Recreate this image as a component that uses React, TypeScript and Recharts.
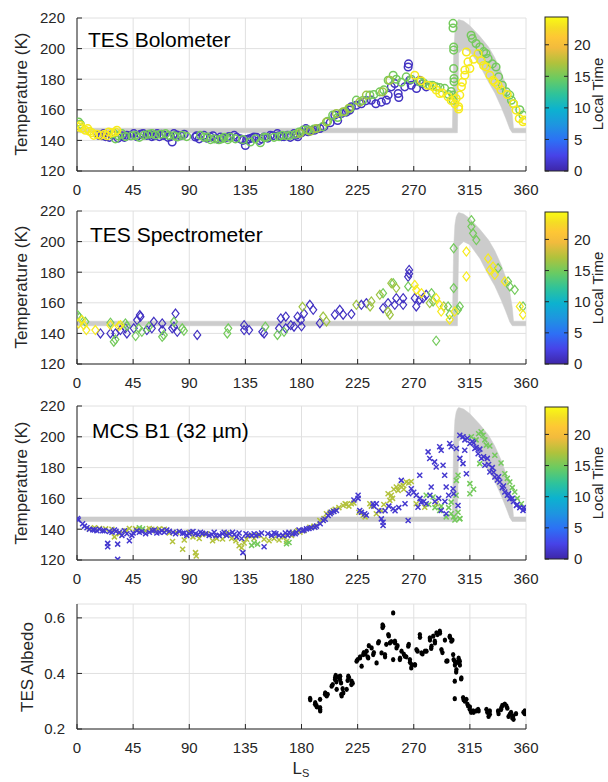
import React from 'react';
import { ComposedChart, Scatter, Area, XAxis, YAxis, CartesianGrid } from 'recharts';

const FONT = '"Liberation Sans", Arial, Helvetica, sans-serif';
const INK = '#262626';

const LS_TICKS = [0, 45, 90, 135, 180, 225, 270, 315, 360];
const TEMP_TICKS = [120, 140, 160, 180, 200, 220];
const ALBEDO_TICKS = [0.2, 0.4, 0.6];
const LT_TICKS = [0, 5, 10, 15, 20];
const LT_MAX = 24.4;

// grey model envelope
const BAND_LS = [0, 301, 302, 303, 304, 305, 306, 310, 315, 323, 330, 335, 340, 344, 347, 349, 350, 360];
const BAND_LO = [145, 145, 145, 145, 145, 145, 197, 200, 198, 189, 178, 171, 162, 154, 147.5, 145, 145, 145];
const BAND_HI = [148, 148, 196, 211, 216, 218, 219, 218, 215, 208, 201, 194, 185, 176, 167, 157, 148, 148];

// TES bolometer, by local time
const BOL_LT1 = [
  [17.4, 143.3], [20, 143], [21.4, 144.4], [23, 142.5], [26, 142], [28, 143.5], [33, 141.5], [36, 143], [38, 142],
  [40, 143.3], [43, 143], [45.5, 144.4], [48, 142.5], [51, 144], [53, 144.5], [56, 143.3], [58, 144], [60, 142.5],
  [62, 143], [64.3, 144.4], [66, 142.5], [68, 144], [69.6, 143.3], [73, 142], [75, 142.5], [76.3, 139], [77.7, 144.4],
  [80, 143.5], [83, 143], [86, 144], [95, 142.2], [96, 143], [98, 141], [101.8, 143.3], [104, 141.5], [107, 142.2],
  [109, 143], [112, 141], [115, 142.2], [117, 141.5], [120, 142], [122, 142.5], [126, 143.3], [128, 142], [131, 141],
  [133, 140], [135, 136.7], [136, 140.5], [138, 141], [140, 141.5], [142, 142.2], [144, 142], [146, 140], [148, 141],
  [150, 142.2], [153, 141.5], [155, 143.3], [157, 143], [160.7, 144.4], [162, 143], [164, 142.5], [166, 142.5],
  [168.8, 143.3], [171, 142], [174, 144.4], [176, 143.5], [177, 142.4], [180, 145], [183.5, 147.7], [185.3, 145.7],
  [188, 146.5], [190.7, 146.7], [194.7, 147.8], [198, 149], [203, 151.5], [206.7, 156.5], [209, 153], [212, 157.6],
  [216, 158.5], [218.7, 159.8], [220, 162], [224, 163], [228, 164], [232, 166], [236, 166.3], [239.6, 164],
  [244, 165], [248, 166.3], [249.5, 169.6], [252, 175], [254.8, 177.2], [257.5, 170.7], [258, 168], [262.8, 175],
  [265.5, 188], [265.8, 190], [266.8, 179.3], [268, 176], [272.2, 173.9], [274.8, 179.3], [277, 177], [280, 175],
];
const BOL_LT15 = [
  [1.3, 152], [2.7, 150.5], [29.5, 144.4], [30.8, 141], [33, 143], [36, 144.4], [39, 142.5], [44, 143], [47, 143.3],
  [50, 142], [53.6, 143.3], [57, 144], [60, 144.4], [63, 143.5], [67, 144], [71, 144.4], [73.6, 143.3], [78, 143],
  [80.4, 142.2], [84.4, 143.3], [88, 142.5], [99, 143.3], [102, 142], [104.5, 142.2], [107, 140.5], [110, 141],
  [113.8, 140.4], [116, 141], [118, 142], [121, 140.5], [123, 142], [127, 141], [133, 140.5], [139, 139], [143, 141],
  [147, 138.5], [150, 142], [152, 142], [158, 142], [162, 142.5], [164.7, 143.3], [168, 143], [171, 143.3],
  [175, 144], [178, 145.5], [181.3, 146.7], [185, 147], [190, 147.5], [197, 149], [201, 152.5], [205, 156.5],
  [209, 155], [214.7, 158.7], [219, 161], [224, 166.3], [229, 166], [234.8, 169.6], [238, 170], [242.8, 171.7],
  [246, 173], [249.5, 179.3], [253.5, 182.6], [256, 180], [260, 178], [264, 181.5], [268, 180], [274.8, 178.3],
  [278, 177.5], [282.8, 176], [285, 176], [288, 175], [291, 174.5], [294.8, 174], [298, 170], [300, 172],
  [301.5, 216.5], [301.5, 213.5], [302, 201], [302, 199], [302, 187], [302.3, 180.4], [302.3, 178.3],
  [301.5, 169.6], [301.5, 166.3], [316, 208.7], [317, 206.5], [320, 203.3], [323, 201], [326, 198], [328, 196.7],
  [329.6, 193.5], [333, 190], [336, 188], [338, 181.5], [341, 176], [344.3, 171.7], [347, 169.6], [348.3, 166.3],
  [350, 164], [355, 160], [357.6, 156.5],
];
const BOL_LT16 = [
  [178.7, 144.6], [187, 146], [192, 147.8], [200, 152], [208, 157.6], [213.4, 158.7], [218, 161], [226.7, 165],
  [232, 169.6], [245, 171.7], [250.8, 179.3],
];
const BOL_LT23 = [
  [1.3, 148.7], [2.7, 149.8], [4, 148], [6.7, 146.6], [8.6, 147.7], [10, 146], [12, 145], [13.4, 143.3], [16, 144],
  [18.8, 143.3], [22, 144], [24, 143], [25.4, 145.5], [28, 145], [30.8, 145.5], [32, 146.6], [270.8, 182.6],
  [276, 179], [281, 176], [285.5, 175], [288, 173], [290.8, 170.7], [293, 171], [297.5, 168.5], [300, 166],
  [303, 164], [304, 167.4], [306, 162], [306, 160.5], [306.9, 169.6], [308.2, 175], [309, 178], [310.9, 182.6],
  [311, 186], [312.2, 197.8], [313.5, 191.3], [315, 187], [318, 193], [321.6, 196.7], [324, 192], [326, 189],
  [328.2, 188], [331, 182.6], [333.6, 179.3], [335, 178], [337.6, 176], [340, 173], [345, 170], [350, 164],
  [352, 159.8], [354.6, 154.3], [357.6, 152.2], [359, 153.3],
];

// TES spectrometer
const SPEC_LT1 = [
  [18.8, 140], [26.8, 140], [30.8, 140], [34.8, 142.2], [38.8, 143.3], [40, 140], [45.5, 143.3], [48.2, 148.7],
  [50.9, 150.9], [50.4, 152], [56, 142.2], [60, 143.3], [61.6, 147.6], [68.3, 146.5], [68.3, 142.2], [76.3, 143.3],
  [79, 153], [77.7, 144.4], [80.4, 141], [96.4, 139], [134, 145.4], [134, 142.2], [138, 142.2], [148.6, 141],
  [150, 140], [162, 143.3], [163.4, 149.8], [167.4, 143.3], [167.4, 150.9], [171.4, 145.4], [174, 144.4],
  [176.8, 150.9], [179.5, 148.7], [182, 153], [180, 144.6], [186.7, 158.7], [189.4, 155.4], [194.7, 146.7],
  [206.7, 152.2], [210.7, 155.4], [213.4, 152.2], [220, 152.6], [228, 158.7], [232, 159.8], [245.4, 156.5],
  [249.4, 159.8], [254.8, 158.7], [256, 163], [261.5, 163], [261.5, 158.7], [266.3, 181.5], [266.3, 179],
  [265.5, 177], [270.8, 163], [272, 157.6], [274.8, 162], [277.5, 163], [280, 165.2],
];
const SPEC_LT15 = [
  [0.5, 152], [2, 150.5], [6.7, 147.6], [26.8, 147], [29.5, 134.6], [30.8, 136], [38.8, 146.5], [40, 144.8],
  [47, 138.3], [49.5, 143.3], [52, 141], [57.6, 144.4], [68.3, 137.8], [69.6, 138.9], [77.7, 147.6], [84.4, 143.3],
  [85.7, 141.7], [120.5, 140], [121.3, 143.3], [151, 144.4], [160.7, 139], [166, 141], [245.4, 166.3],
  [253.5, 172.8], [265.5, 170.7], [284.2, 166.3], [285.5, 160.9], [297.5, 157.6], [298.8, 152.2], [302, 195.6],
  [302, 169.6], [288, 135.2], [316.2, 214], [316.2, 209.8], [317.5, 205.4], [320.2, 201], [337.6, 182.6],
  [345.6, 174], [347, 170.7], [351, 168.5], [357.6, 157.6], [306.9, 157.6], [305.5, 155.4],
];
const SPEC_LT16 = [
  [180.8, 157.4], [197.4, 151], [200, 147.8], [224, 158.7], [235, 157.6], [236, 160.9], [242.8, 165.2],
  [249.4, 154.3], [250.8, 152.2], [252, 172.8], [256, 169.6], [282.8, 159.8], [294, 157.6],
];
const SPEC_LT23 = [
  [1.3, 146.5], [4, 148.7], [5.4, 145.4], [7.5, 142.2], [14.7, 142.2], [26.8, 145.4], [33.5, 144.8], [34.8, 145.4],
  [270.8, 171.7], [272, 168.5], [276.2, 166.3], [288, 163], [290.8, 158.7], [292, 154.3], [298.8, 149],
  [302.8, 154.3], [312.2, 193.5], [312.2, 177.2], [329.6, 189], [331, 181.5], [333.6, 183.7], [335, 178.3],
  [343, 174], [355, 157.6], [357.6, 152.2],
];

// MCS B1
const MCS_LT2 = [
  [0.5, 147], [1, 146], [4.5, 143.5], [6, 142], [8, 141], [10, 140], [12.6, 139.6], [14, 139.5], [16, 139], [18, 140],
  [20.6, 139], [22, 139], [24.6, 130.8], [24.6, 128.6], [26, 138.5], [28, 138], [30, 139.5], [31.3, 138.7],
  [32.6, 130.3], [32.6, 120.4], [34, 138], [36, 136], [38, 139], [40, 137], [42, 132.5], [44, 136], [45, 137.5],
  [48, 139], [50, 138], [52, 138.5], [55, 137], [58, 138], [60.6, 139], [62, 139.5], [64, 137.5], [66, 138], [68, 139],
  [70, 138], [72, 139.5], [74, 138.7], [77, 138], [79, 137], [82, 138.5], [84.7, 137.4], [86, 137.5], [88, 136],
  [90, 137], [91.4, 138], [93, 138.5], [95, 137], [97, 136.5], [99, 138], [100.7, 137.4], [103, 137], [106, 136],
  [108, 136.5], [110, 138], [111.4, 135.8], [114, 136], [116.7, 137], [118, 138], [120, 136], [122, 137],
  [124.7, 138], [126, 136.5], [128, 135], [130, 137.5], [132, 134], [133, 124.8], [135.5, 137], [137, 136],
  [140, 136], [142, 137], [143.4, 135.8], [146, 136.5], [148, 137.5], [150, 128.6], [153, 137], [156, 136],
  [158, 137.5], [159.5, 137], [162, 136], [165, 136], [167, 137.5], [169, 136], [170, 138], [173, 137], [175, 137],
  [176, 138], [178, 139.5], [180.8, 139], [182, 139.5], [184, 140.2], [186, 140.5], [188, 141], [190.7, 141.3],
  [192, 142], [195, 143.5], [197.4, 145.6], [199, 146.5], [201.4, 148.9], [203, 150], [204, 151], [206, 151.5],
  [208, 152.2], [222, 159], [225.4, 162], [225.4, 160], [226.7, 152.2], [228, 151], [230.7, 150], [232, 149],
  [237.4, 156.5], [238, 155], [240, 156.5], [242, 152], [244, 146.7], [245.4, 142.4], [245.4, 144.5], [247, 152],
  [250, 155], [253.5, 153.3], [255, 152], [258, 154], [260, 171.7], [263, 156.5], [265.5, 145.6], [266, 163],
  [268, 166.3], [270, 164], [272, 162], [273.4, 154.3], [274.8, 175], [275, 160], [276, 157.6], [278, 158],
  [280, 156.5], [281.5, 190.2], [282.8, 185.9], [283, 162], [284, 167.4], [286.7, 183.7], [287, 158],
  [288, 180.4], [290, 160], [290.8, 193.5], [292, 191.3], [292, 152.2], [293.5, 181.5], [294.8, 175], [295, 158],
  [296, 167.4], [296, 150], [298, 162], [298.8, 195.6], [300, 193.5], [301.5, 166.3], [302, 163], [304.2, 192.4],
  [305.5, 155.4], [306.9, 201], [307, 186], [309.5, 200], [309.5, 182.6], [310.9, 191.3], [311, 198], [312.2, 176],
  [313, 199], [315, 195.6], [317, 197], [318, 196], [319, 192.4], [320, 193], [321.6, 189], [323, 192],
  [324.2, 185.9], [326, 187], [327, 181.5], [329, 186], [330, 182], [331, 177.2], [333, 180], [334, 177],
  [335, 173.9], [337, 172], [338, 174], [339, 170.7], [341, 167], [342, 168], [343, 164.1], [345, 162], [346, 163],
  [347, 159.8], [349, 160], [350, 158], [352.3, 155.4], [353, 156], [355, 154], [357.6, 152.2], [358, 154],
  [360, 153],
];
const MCS_LT17 = [
  [10, 140.2], [14, 141], [18, 140.5], [23, 140.2], [28, 140], [30, 135], [34, 137], [39.3, 139], [42, 140.5],
  [47, 140.2], [50, 140], [55, 139], [58, 140.5], [60, 140], [63, 139], [66, 140.2], [70, 140], [74, 137.5],
  [76.6, 132], [80, 138], [84.7, 127], [86, 133], [90, 138], [93, 135], [95, 124.8], [95.6, 122.6], [98, 134],
  [100.7, 136.5], [104, 137], [108.7, 132.5], [112, 134], [116.7, 133.6], [120, 137.5], [124, 134],
  [127.4, 132.5], [130, 129.2], [132, 128], [134, 131], [136, 133.5], [138, 135.8], [142, 134], [145, 136],
  [150, 133.5], [154, 132.5], [158, 134], [162, 133], [166, 135], [168, 132], [172, 136], [172.8, 138], [177, 139],
  [178.7, 138], [182, 139], [186.7, 141.3], [190, 142], [194.7, 145.6], [198, 147], [200, 150], [203, 151],
  [205.4, 152.2], [207, 153], [210, 154], [213.4, 155.4], [215, 156.5], [216, 156], [218, 155], [220, 156.5],
  [222, 157], [226, 151], [229.4, 149], [231, 148], [234.8, 156.5], [236, 155], [240, 150], [244, 152], [246, 156],
  [249.4, 163], [250.8, 158.7], [252, 162], [253, 160], [254, 166], [256, 167.4], [257.5, 165.2], [259, 168],
  [261.5, 168.5], [262, 166], [264, 170.7], [266, 170], [268, 171], [272, 156.5], [278.8, 154.3], [288, 156.5],
];
const MCS_LT15 = [
  [50, 141], [52.6, 140.2], [140, 129.5], [142, 131], [144.8, 130.3], [168, 130.5], [170, 131.4], [280, 162],
  [282, 156], [285.5, 160.9], [287, 154], [290.8, 152.2], [292, 155], [296, 148], [298, 154], [300, 157.6],
  [300, 150], [302, 148], [303, 146], [304, 162], [305.5, 151], [306.9, 146.7], [307, 147], [305.5, 175],
  [304.2, 171.7], [315, 169.6], [315, 163], [316.2, 200], [318, 166], [320, 198], [322, 202], [322.9, 182.6],
  [324, 203.3], [325.6, 201], [327, 198], [328.2, 194.6], [331, 194], [335, 188], [340, 183], [343, 176],
  [345, 173], [347, 170.7], [349, 167], [351, 164.1], [353, 160], [356.3, 156.5],
];

// TES albedo
const ALBEDO = [
  [186.9, 0.31], [187, 0.305], [190.9, 0.289], [191, 0.295], [192.2, 0.28], [192, 0.285], [194.9, 0.307],
  [194.9, 0.277], [194.9, 0.271], [195, 0.265], [198.9, 0.325], [199, 0.33], [200.2, 0.319], [201, 0.325],
  [204.2, 0.354], [205, 0.36], [206.9, 0.378], [207, 0.385], [207.4, 0.393], [208.2, 0.343], [208, 0.37],
  [209.5, 0.388], [210, 0.385], [210.9, 0.378], [211, 0.39], [211.7, 0.366], [212.2, 0.319], [212, 0.325],
  [213.5, 0.33], [213, 0.345], [216.2, 0.343], [217, 0.375], [217.5, 0.39], [218, 0.385], [220.2, 0.372],
  [220, 0.36], [221, 0.365], [224.2, 0.444], [225, 0.45], [226.9, 0.456], [227, 0.46], [228.2, 0.426],
  [229.5, 0.468], [230, 0.475], [231, 0.47], [232.2, 0.48], [233.5, 0.456], [233, 0.46], [234, 0.5],
  [236.2, 0.492], [237.5, 0.468], [238, 0.475], [240.2, 0.438], [241.5, 0.51], [242, 0.515], [244.2, 0.474],
  [245.5, 0.57], [245, 0.575], [245, 0.565], [246.9, 0.468], [247, 0.46], [248, 0.505], [249.6, 0.54],
  [250, 0.535], [250.9, 0.51], [252, 0.515], [253.5, 0.618], [253.5, 0.45], [254.9, 0.516], [255, 0.51],
  [256.2, 0.492], [257, 0.5], [258.9, 0.45], [259, 0.455], [260.2, 0.48], [262, 0.47], [262.9, 0.462],
  [264, 0.46], [265.6, 0.498], [266, 0.505], [266.9, 0.45], [267, 0.44], [268.3, 0.432], [268, 0.42],
  [270.9, 0.432], [271, 0.43], [272.2, 0.486], [273, 0.48], [274.9, 0.54], [275, 0.53], [276.2, 0.474],
  [277, 0.47], [279, 0.48], [280.2, 0.48], [282.9, 0.528], [283, 0.52], [284.2, 0.498], [284, 0.49],
  [285.6, 0.534], [286.9, 0.516], [287, 0.51], [288.2, 0.546], [289, 0.54], [290.9, 0.552], [291, 0.545],
  [292.2, 0.486], [293, 0.475], [295, 0.52], [296.2, 0.444], [297, 0.445], [298.9, 0.534], [299, 0.53],
  [300.2, 0.516], [301, 0.52], [301.6, 0.468], [302, 0.45], [302.9, 0.444], [303, 0.43], [302.9, 0.372],
  [302.9, 0.309], [304.2, 0.414], [304, 0.405], [305, 0.44], [306, 0.455], [306.9, 0.444], [307, 0.43],
  [308.2, 0.384], [308, 0.38], [309.6, 0.313], [310, 0.305], [311, 0.3], [312.2, 0.307], [313, 0.29],
  [313.6, 0.283], [314.9, 0.271], [315, 0.28], [316, 0.26], [317.6, 0.265], [318, 0.26], [320, 0.265],
  [321.6, 0.271], [322, 0.265], [328.3, 0.271], [329, 0.26], [330, 0.245], [331, 0.253], [331, 0.265],
  [337.6, 0.265], [338, 0.255], [340.3, 0.277], [340, 0.27], [341, 0.285], [343, 0.29], [344.3, 0.283],
  [345, 0.275], [346, 0.245], [347, 0.253], [348, 0.26], [349, 0.24], [349.7, 0.247], [350, 0.235],
  [352, 0.255], [358, 0.26], [359, 0.265], [359, 0.255],
];

const PARULA: [number, string][] = [
  [0, '#3e26a8'], [0.1, '#4743e8'], [0.2, '#2d70f5'], [0.3, '#1e95e0'], [0.4, '#0cb2cf'], [0.5, '#2fc39a'],
  [0.6, '#6acb62'], [0.7, '#b0c23c'], [0.8, '#f2bb3d'], [0.87, '#fec735'], [0.93, '#f5dc25'], [1, '#f9fb14'],
];

function parula(f: number) {
  const v = Math.max(0, Math.min(1, f));
  for (let i = 1; i < PARULA.length; i++) {
    const [p1, c1] = PARULA[i];
    const [p0, c0] = PARULA[i - 1];
    if (v <= p1) {
      const k = (v - p0) / (p1 - p0);
      const a = [1, 3, 5].map((j) => parseInt(c0.slice(j, j + 2), 16));
      const b = [1, 3, 5].map((j) => parseInt(c1.slice(j, j + 2), 16));
      return `rgb(${a.map((x, j) => Math.round(x + (b[j] - x) * k)).join(',')})`;
    }
  }
  return PARULA[PARULA.length - 1][1];
}

const band = BAND_LS.map((ls, i) => ({ ls, range: [BAND_LO[i], BAND_HI[i]] }));
const toPts = (arr: number[][]) => arr.map(([ls, v]) => ({ ls, v }));

const ring = (color: string) => (p: any) => (
  <circle cx={p.cx} cy={p.cy} r={3.8} fill="none" stroke={color} strokeWidth={1.5} />
);
const diamond = (color: string) => (p: any) => (
  <path
    d={`M${p.cx},${p.cy - 4.5}L${p.cx + 3.5},${p.cy}L${p.cx},${p.cy + 4.5}L${p.cx - 3.5},${p.cy}Z`}
    fill="none"
    stroke={color}
    strokeWidth={1.2}
  />
);
const cross = (color: string) => (p: any) => (
  <path
    d={`M${p.cx - 2.5},${p.cy - 2.5}L${p.cx + 2.5},${p.cy + 2.5}M${p.cx - 2.5},${p.cy + 2.5}L${p.cx + 2.5},${p.cy - 2.5}`}
    stroke={color}
    strokeWidth={1.5}
  />
);
const dot = (p: any) => <ellipse cx={p.cx} cy={p.cy} rx={2.2} ry={2.6} fill="#000" />;

const tickStyle = { fill: INK, fontSize: 15, fontFamily: FONT };
const lineStyle = { stroke: INK, strokeWidth: 1 };

function axes(yDomain: number[], yTicks: number[], fmt?: (v: number) => string) {
  return [
    <CartesianGrid key="g" stroke="#e0e0e0" />,
    <XAxis
      key="xb"
      dataKey="ls"
      type="number"
      domain={[0, 360]}
      ticks={LS_TICKS}
      allowDataOverflow
      height={29}
      tickSize={-5}
      tickMargin={18}
      tick={tickStyle}
      tickLine={lineStyle}
      axisLine={lineStyle}
    />,
    <XAxis
      key="xt"
      xAxisId="top"
      orientation="top"
      type="number"
      domain={[0, 360]}
      ticks={LS_TICKS}
      allowDataOverflow
      height={0}
      tickSize={-5}
      tick={false}
      tickLine={lineStyle}
      axisLine={lineStyle}
    />,
    <YAxis
      key="yl"
      type="number"
      domain={yDomain}
      ticks={yTicks}
      allowDataOverflow
      width={77}
      tickSize={-5}
      tickMargin={17}
      tick={tickStyle}
      tickFormatter={fmt}
      tickLine={lineStyle}
      axisLine={lineStyle}
    />,
    <YAxis
      key="yr"
      yAxisId="r"
      orientation="right"
      type="number"
      domain={yDomain}
      ticks={yTicks}
      allowDataOverflow
      width={0}
      tickSize={-5}
      tick={false}
      tickLine={lineStyle}
      axisLine={lineStyle}
    />,
  ];
}

type Group = { lt: number; pts: number[][] };

function TempPanel(props: { top: number; height: number; groups: Group[]; marker: (c: string) => any }) {
  const { top, height, groups, marker } = props;
  return (
    <div style={{ position: 'absolute', left: 0, top }}>
      <ComposedChart width={608} height={height} data={band} margin={{ top: 18, right: 82, bottom: 0, left: 0 }}>
        {axes([120, 220], TEMP_TICKS)}
        <Area dataKey="range" type="linear" stroke="#cccccc" strokeWidth={0.5} fill="#cccccc" fillOpacity={1} isAnimationActive={false} />
        {groups.map((g, i) => (
          <Scatter key={i} data={toPts(g.pts)} dataKey="v" shape={marker(parula(g.lt / LT_MAX))} isAnimationActive={false} />
        ))}
      </ComposedChart>
    </div>
  );
}

function ColorBar({ top, bottom }: { top: number; bottom: number }) {
  const h = bottom - top;
  const y = (v: number) => bottom - (v / LT_MAX) * h;
  return (
    <svg style={{ position: 'absolute', left: 0, top: 0 }} width={608} height={782} pointerEvents="none">
      <defs>
        <linearGradient id={`cb${top}`} x1="0" y1="1" x2="0" y2="0">
          {PARULA.map(([p, c]) => (
            <stop key={p} offset={p} stopColor={c} />
          ))}
        </linearGradient>
      </defs>
      <rect x={545} y={top} width={23} height={h} fill={`url(#cb${top})`} stroke={INK} strokeWidth={1} />
      {LT_TICKS.map((t) => (
        <g key={t}>
          <line x1={568} x2={564} y1={y(t)} y2={y(t)} stroke={INK} />
          <line x1={545} x2={549} y1={y(t)} y2={y(t)} stroke={INK} />
          <text x={574} y={y(t)} dy="0.35em" fontSize={15} fontFamily={FONT} fill={INK}>
            {t}
          </text>
        </g>
      ))}
      <text
        x={598}
        y={(top + bottom) / 2}
        transform={`rotate(-90 598 ${(top + bottom) / 2})`}
        textAnchor="middle"
        dy="0.35em"
        fontSize={15}
        fontFamily={FONT}
        fill={INK}
      >
        Local Time
      </text>
    </svg>
  );
}

const label = (text: string, x: number, y: number) => (
  <div
    style={{
      position: 'absolute',
      left: x,
      top: y,
      transform: 'translate(-50%, -50%) rotate(-90deg)',
      whiteSpace: 'nowrap',
      fontFamily: FONT,
      fontSize: 17,
      lineHeight: 1,
      color: INK,
    }}
  >
    {text}
  </div>
);

const title = (text: string, x: number, y: number) => (
  <div style={{ position: 'absolute', left: x, top: y, fontFamily: FONT, fontSize: 21, lineHeight: 1, color: '#000', whiteSpace: 'nowrap' }}>
    {text}
  </div>
);

export default function App() {
  return (
    <div style={{ position: 'absolute', left: 0, top: 0, width: 608, height: 782, background: '#fff', overflow: 'hidden' }}>
      <TempPanel
        top={0}
        height={200}
        marker={ring}
        groups={[
          { lt: 1, pts: BOL_LT1 },
          { lt: 15, pts: BOL_LT15 },
          { lt: 16.5, pts: BOL_LT16 },
          { lt: 23.5, pts: BOL_LT23 },
        ]}
      />
      <TempPanel
        top={193}
        height={200}
        marker={diamond}
        groups={[
          { lt: 1, pts: SPEC_LT1 },
          { lt: 15, pts: SPEC_LT15 },
          { lt: 16.5, pts: SPEC_LT16 },
          { lt: 23.5, pts: SPEC_LT23 },
        ]}
      />
      <TempPanel
        top={388}
        height={201}
        marker={cross}
        groups={[
          { lt: 17.2, pts: MCS_LT17 },
          { lt: 15, pts: MCS_LT15 },
          { lt: 1.5, pts: MCS_LT2 },
        ]}
      />
      <div style={{ position: 'absolute', left: 0, top: 586 }}>
        <ComposedChart width={608} height={172} margin={{ top: 18, right: 82, bottom: 0, left: 0 }}>
          {axes([0.2, 0.65], ALBEDO_TICKS, (v: number) => v.toFixed(1))}
          <Scatter data={toPts(ALBEDO)} dataKey="v" shape={dot} isAnimationActive={false} />
        </ComposedChart>
      </div>

      <ColorBar top={17} bottom={171} />
      <ColorBar top={212} bottom={364} />
      <ColorBar top={407} bottom={559} />

      {title('TES Bolometer', 88, 29)}
      {title('TES Spectrometer', 90, 224)}
      {title('MCS B1 (32 µm)', 92, 420)}

      {label('Temperature (K)', 21, 94)}
      {label('Temperature (K)', 21, 287)}
      {label('Temperature (K)', 21, 483)}
      {label('TES Albedo', 27, 667)}

      <div style={{ position: 'absolute', left: 301, top: 760, transform: 'translateX(-50%)', fontFamily: FONT, fontSize: 17, lineHeight: 1, color: INK, whiteSpace: 'nowrap' }}>
        L<span style={{ fontSize: 11, position: 'relative', top: 3 }}>S</span>
      </div>
    </div>
  );
}
